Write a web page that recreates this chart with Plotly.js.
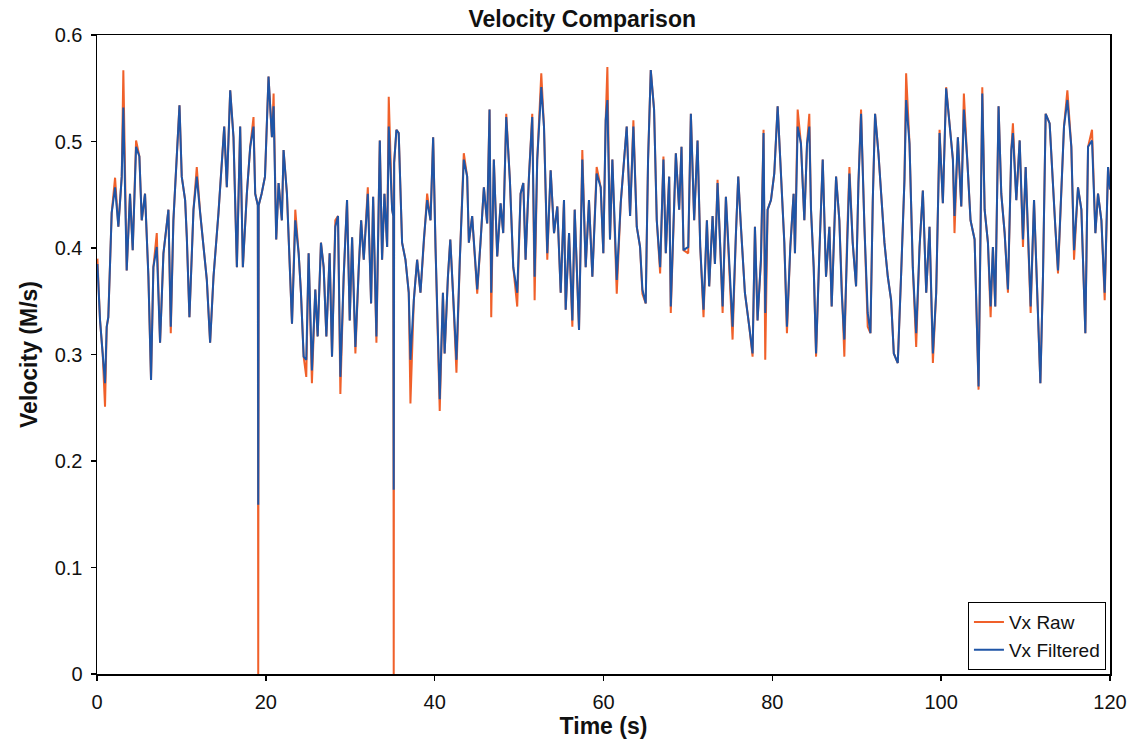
<!DOCTYPE html>
<html>
<head>
<meta charset="utf-8">
<script src="https://cdn.plot.ly/plotly-3.0.1.min.js"></script>
<style>html,body{margin:0;padding:0;background:#fff;}#chart{width:1144px;height:752px;}</style>
</head>
<body>
<div id="chart"></div>
<script>
// Time (s)
const timeS = [0.05,0.36,0.67,0.95,1.15,1.34,1.74,2.14,2.53,2.93,3.12,3.32,3.52,3.91,4.23,4.63,5.02,5.30,5.69,6.09,6.40,6.68,7.08,7.47,7.87,8.46,8.74,9.05,9.45,9.77,10.04,10.44,10.64,10.95,11.43,11.82,12.22,12.61,13.01,13.40,13.80,14.39,14.79,15.07,15.38,15.78,16.17,16.57,16.96,17.28,17.75,18.15,18.54,18.74,19.05,19.10,19.15,19.50,19.90,20.32,20.72,20.92,21.23,21.51,21.90,22.10,22.50,22.90,23.10,23.49,23.89,24.16,24.48,24.79,25.07,25.46,25.86,26.14,26.53,26.85,27.17,27.56,27.84,28.23,28.55,28.83,29.22,29.62,29.94,30.22,30.61,31.01,31.29,31.60,32.08,32.47,32.71,33.10,33.50,33.77,34.05,34.37,34.56,34.96,35.10,35.15,35.20,35.47,35.74,36.14,36.54,36.93,37.13,37.53,37.92,38.32,38.72,39.11,39.51,39.82,40.10,40.60,40.98,41.18,41.57,41.85,42.17,42.58,42.98,43.45,43.85,44.05,44.44,45.04,45.43,45.83,46.22,46.50,46.70,47.01,47.41,47.81,48.12,48.48,48.91,49.31,49.78,50.18,50.50,50.77,51.17,51.56,51.84,52.15,52.63,52.95,53.34,53.74,54.14,54.53,54.93,55.32,55.52,55.92,56.31,56.59,57.10,57.49,57.89,58.28,58.68,59.19,59.67,59.98,60.26,60.46,60.77,61.05,61.57,62.04,62.44,62.75,63.15,63.54,63.94,64.33,64.61,65.00,65.28,65.60,65.99,66.31,66.71,67.10,67.38,67.78,67.97,68.57,68.96,69.24,69.48,70.04,70.35,70.74,71.14,71.46,71.85,72.25,72.52,72.92,73.20,73.51,73.83,74.11,74.50,74.89,75.29,75.69,75.96,76.28,76.75,77.27,77.66,77.94,78.25,78.65,78.96,79.16,79.44,79.84,80.23,80.63,81.02,81.42,81.73,82.13,82.52,82.68,83.00,83.39,83.79,84.11,84.38,84.58,84.90,85.18,85.57,85.97,86.36,86.76,87.03,87.55,87.94,88.22,88.53,88.85,89.13,89.52,89.92,90.20,90.51,90.91,91.30,91.62,91.90,92.17,92.57,92.89,93.28,93.68,94.07,94.39,94.86,95.26,95.65,95.85,96.25,96.64,97.04,97.44,97.83,98.23,98.62,99.02,99.41,99.81,100.20,100.59,100.99,101.39,101.58,101.98,102.38,102.69,103.09,103.48,103.96,104.16,104.43,104.67,104.87,105.15,105.54,105.86,106.13,106.41,106.80,107.12,107.52,107.91,108.31,108.50,108.90,109.30,109.69,110.01,110.37,110.60,111.00,111.47,111.75,112.06,112.38,112.85,113.25,113.52,113.84,114.24,114.55,114.95,115.42,115.74,116.21,116.61,117.08,117.40,117.87,118.27,118.58,118.98,119.37,119.77,120.00];

// Vx Filtered (m/s)
const vxFiltered = [0.385,0.332,0.301,0.273,0.326,0.335,0.433,0.457,0.420,0.467,0.532,0.457,0.379,0.451,0.398,0.495,0.486,0.426,0.451,0.373,0.276,0.382,0.401,0.311,0.395,0.436,0.326,0.426,0.489,0.534,0.467,0.445,0.410,0.335,0.436,0.467,0.433,0.401,0.370,0.311,0.373,0.433,0.483,0.514,0.457,0.548,0.504,0.382,0.514,0.382,0.451,0.495,0.514,0.451,0.440,0.159,0.440,0.451,0.467,0.561,0.504,0.533,0.408,0.461,0.426,0.492,0.451,0.376,0.329,0.426,0.395,0.358,0.298,0.295,0.395,0.285,0.361,0.317,0.405,0.382,0.317,0.395,0.298,0.420,0.430,0.279,0.373,0.445,0.332,0.410,0.307,0.382,0.426,0.389,0.451,0.348,0.448,0.317,0.501,0.389,0.451,0.401,0.514,0.436,0.430,0.173,0.480,0.511,0.508,0.405,0.389,0.358,0.295,0.351,0.389,0.358,0.408,0.445,0.426,0.504,0.401,0.258,0.358,0.301,0.373,0.408,0.358,0.295,0.389,0.483,0.467,0.405,0.430,0.361,0.405,0.457,0.423,0.530,0.358,0.483,0.392,0.442,0.414,0.523,0.464,0.382,0.358,0.451,0.461,0.389,0.467,0.523,0.373,0.483,0.551,0.514,0.395,0.473,0.414,0.439,0.358,0.445,0.342,0.414,0.332,0.436,0.323,0.483,0.382,0.445,0.373,0.470,0.457,0.395,0.520,0.539,0.408,0.483,0.370,0.442,0.483,0.514,0.430,0.514,0.420,0.401,0.361,0.348,0.483,0.567,0.530,0.426,0.382,0.483,0.395,0.467,0.345,0.489,0.436,0.495,0.398,0.401,0.526,0.426,0.501,0.401,0.342,0.426,0.364,0.430,0.385,0.461,0.401,0.345,0.448,0.382,0.326,0.414,0.467,0.420,0.358,0.326,0.301,0.420,0.332,0.389,0.508,0.339,0.436,0.445,0.470,0.533,0.473,0.405,0.326,0.401,0.451,0.395,0.514,0.498,0.426,0.498,0.514,0.436,0.382,0.301,0.395,0.483,0.373,0.420,0.345,0.467,0.426,0.358,0.314,0.408,0.470,0.405,0.364,0.461,0.526,0.420,0.339,0.320,0.445,0.526,0.489,0.451,0.405,0.373,0.351,0.301,0.292,0.376,0.464,0.539,0.498,0.382,0.320,0.401,0.454,0.358,0.420,0.301,0.358,0.508,0.442,0.550,0.514,0.483,0.430,0.504,0.439,0.530,0.483,0.426,0.408,0.351,0.270,0.420,0.545,0.436,0.405,0.345,0.401,0.345,0.533,0.451,0.414,0.361,0.492,0.508,0.445,0.501,0.408,0.476,0.389,0.345,0.445,0.326,0.273,0.373,0.526,0.517,0.451,0.420,0.379,0.451,0.514,0.539,0.495,0.398,0.457,0.436,0.320,0.495,0.501,0.414,0.451,0.426,0.358,0.476,0.455];

// Vx Raw (m/s)
const vxRaw = [0.390,0.332,0.301,0.251,0.326,0.335,0.433,0.466,0.420,0.467,0.567,0.457,0.379,0.451,0.398,0.501,0.486,0.426,0.451,0.373,0.276,0.382,0.414,0.311,0.395,0.436,0.320,0.426,0.489,0.534,0.467,0.445,0.410,0.335,0.436,0.476,0.433,0.401,0.370,0.311,0.373,0.433,0.483,0.514,0.457,0.548,0.504,0.382,0.514,0.382,0.451,0.495,0.523,0.451,0.440,0.000,0.440,0.451,0.467,0.561,0.504,0.545,0.408,0.461,0.426,0.492,0.451,0.376,0.329,0.436,0.395,0.358,0.298,0.279,0.395,0.273,0.361,0.317,0.405,0.382,0.317,0.395,0.298,0.426,0.430,0.263,0.373,0.445,0.332,0.410,0.301,0.382,0.426,0.389,0.457,0.348,0.448,0.311,0.501,0.389,0.451,0.401,0.542,0.436,0.430,0.000,0.480,0.511,0.508,0.405,0.389,0.358,0.254,0.351,0.389,0.358,0.408,0.451,0.426,0.504,0.401,0.247,0.358,0.301,0.373,0.408,0.358,0.283,0.389,0.489,0.467,0.405,0.430,0.357,0.405,0.457,0.423,0.530,0.335,0.483,0.392,0.442,0.414,0.526,0.464,0.382,0.345,0.451,0.461,0.389,0.467,0.526,0.351,0.483,0.564,0.514,0.389,0.473,0.414,0.439,0.358,0.445,0.342,0.414,0.326,0.436,0.323,0.492,0.382,0.445,0.373,0.476,0.457,0.395,0.520,0.570,0.408,0.483,0.357,0.442,0.483,0.514,0.430,0.520,0.420,0.401,0.357,0.348,0.483,0.567,0.530,0.426,0.376,0.486,0.395,0.467,0.339,0.489,0.436,0.495,0.398,0.395,0.526,0.426,0.501,0.401,0.335,0.426,0.364,0.430,0.385,0.464,0.401,0.339,0.448,0.382,0.314,0.414,0.467,0.420,0.358,0.326,0.298,0.420,0.332,0.389,0.511,0.295,0.436,0.445,0.470,0.533,0.473,0.405,0.320,0.401,0.451,0.395,0.530,0.498,0.426,0.498,0.526,0.436,0.382,0.298,0.395,0.483,0.373,0.420,0.345,0.467,0.426,0.358,0.298,0.408,0.476,0.405,0.364,0.461,0.530,0.420,0.326,0.320,0.445,0.526,0.489,0.451,0.405,0.373,0.351,0.301,0.292,0.376,0.464,0.564,0.498,0.382,0.307,0.401,0.454,0.358,0.420,0.292,0.358,0.511,0.442,0.551,0.514,0.483,0.414,0.504,0.439,0.545,0.483,0.426,0.408,0.351,0.267,0.420,0.551,0.436,0.405,0.335,0.401,0.345,0.533,0.451,0.414,0.358,0.492,0.517,0.445,0.501,0.401,0.476,0.389,0.339,0.445,0.326,0.273,0.373,0.526,0.517,0.451,0.420,0.376,0.451,0.514,0.548,0.495,0.389,0.457,0.436,0.320,0.495,0.511,0.414,0.451,0.426,0.351,0.476,0.455];

const xTicks = [0, 20, 40, 60, 80, 100, 120];
const yTicks = [0, 0.1, 0.2, 0.3, 0.4, 0.5, 0.6];
const yTickLabels = ['0', '0.1', '0.2', '0.3', '0.4', '0.5', '0.6'];

const FONT = 'Liberation Sans, Arial, sans-serif';

const traces = [
  {x: timeS, y: vxRaw, type: 'scatter', mode: 'lines', name: 'Vx Raw',
   line: {color: '#f0602a', width: 2}},
  {x: timeS, y: vxFiltered, type: 'scatter', mode: 'lines', name: 'Vx Filtered',
   line: {color: '#1f55a6', width: 2}}
];

const layout = {
  width: 1144, height: 752,
  margin: {l: 97, r: 34, t: 35, b: 78},
  paper_bgcolor: '#fff', plot_bgcolor: '#fff',
  font: {family: FONT, color: '#111'},
  title: {text: 'Velocity Comparison', font: {family: FONT, size: 23, weight: 'bold', color: '#111'},
          xref: 'paper', x: 0.479, xanchor: 'center', yref: 'container', y: 0.975, yanchor: 'middle'},
  showlegend: true,
  legend: {x: 0.996, xanchor: 'right', y: 0.006, yanchor: 'bottom',
           bgcolor: '#fff', bordercolor: '#000', borderwidth: 1,
           font: {family: FONT, size: 19, color: '#111'}, tracegroupgap: 0},
  xaxis: {
    range: [0, 120], tickvals: xTicks, ticktext: xTicks.map(String),
    showgrid: false, zeroline: false, showline: true, linecolor: '#000', linewidth: 1.5, mirror: true,
    ticks: 'outside', ticklen: 5, tickwidth: 1.5, tickcolor: '#000', ticklabelstandoff: 4,
    tickfont: {family: FONT, size: 20, color: '#111'},
    title: {text: 'Time (s)', font: {family: FONT, size: 23, weight: 'bold', color: '#111'}, standoff: 6}
  },
  yaxis: {
    range: [0, 0.6], tickvals: yTicks, ticktext: yTickLabels,
    showgrid: false, zeroline: false, showline: true, linecolor: '#000', linewidth: 1.5, mirror: true,
    ticks: 'outside', ticklen: 5, tickwidth: 1.5, tickcolor: '#000', ticklabelstandoff: 4,
    tickfont: {family: FONT, size: 20, color: '#111'},
    title: {text: 'Velocity (M/s)', font: {family: FONT, size: 23, weight: 'bold', color: '#111'}, standoff: 10}
  }
};

Plotly.newPlot('chart', traces, layout, {displayModeBar: false, staticPlot: true});
</script>
</body>
</html>
